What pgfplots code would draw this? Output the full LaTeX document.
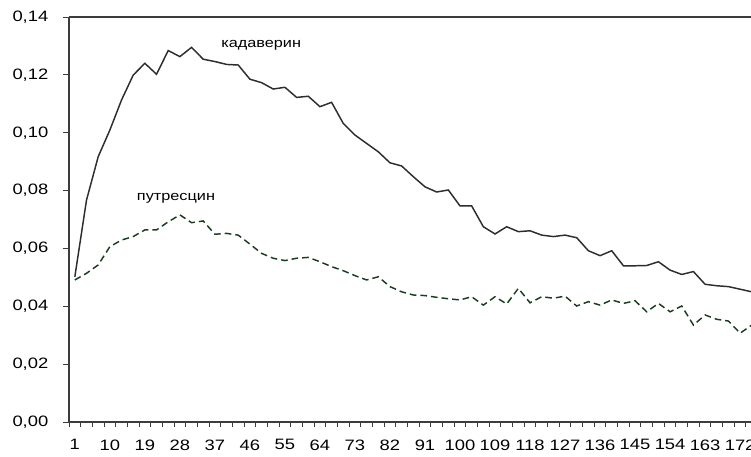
\documentclass[border=0pt]{standalone}
\usepackage{fontspec}
\setmainfont{Liberation Sans}
\usepackage{pgfplots}
\pgfplotsset{compat=1.18}
\usetikzlibrary{calc}
\definecolor{cad}{RGB}{45,45,45}
\definecolor{put}{RGB}{25,62,30}
\definecolor{axc}{RGB}{60,60,60}
\begin{document}
\begin{tikzpicture}
\begin{axis}[
  scale only axis,
  width=511.5pt, height=303.75pt,
  xmin=-0.5, xmax=174.8,
  ymin=0, ymax=0.14,
  axis lines*=left,
  axis line style={-, axc, line width=0.9pt},
  tick align=outside,
  xtick={1,10,...,172},
  major x tick style={draw=none},
  minor xtick={-0.5,2.5,...,175},
  minor tick length=3.75pt,
  minor x tick style={axc, line width=0.7pt},
  ytick={0,0.02,...,0.141},
  major tick length=4.5pt,
  major y tick style={axc, line width=0.7pt},
  /pgf/number format/assume math mode=true,
  yticklabel style={/pgf/number format/.cd, fixed, fixed zerofill, precision=2, use comma,
    /tikz/.cd, font=\fontsize{11.3}{13}\selectfont, xscale=1.22, anchor=east, xshift=-5.5pt},
  xticklabel style={font=\fontsize{11.3}{13}\selectfont, xscale=1.22, anchor=north, yshift=-7.5pt, inner sep=1pt},
  clip=true,
]
\addplot[cad, line width=1.1pt] coordinates {
(1,0.0502)(4,0.0767)(7,0.0917)(10,0.1009)(13,0.1113)(16,0.1199)(19,0.1240)(22,0.1202)
(25,0.1284)(28,0.1263)(31,0.1295)(34,0.1254)(37,0.1246)(40,0.1236)(43,0.1234)(46,0.1185)
(49,0.1173)(52,0.1151)(55,0.1157)(58,0.1122)(61,0.1126)(64,0.1090)(67,0.1105)(70,0.1032)
(73,0.0992)(76,0.0963)(79,0.0934)(82,0.0896)(85,0.0885)(88,0.0848)(91,0.0813)(94,0.0795)
(97,0.0802)(100,0.0747)(103,0.0747)(106,0.0675)(109,0.0650)(112,0.0675)(115,0.0658)(118,0.0661)
(121,0.0646)(124,0.0641)(127,0.0646)(130,0.0637)(133,0.0592)(136,0.0575)(139,0.0592)(142,0.0540)
(145,0.0540)(148,0.0541)(151,0.0554)(154,0.0525)(157,0.0510)(160,0.0520)(163,0.0476)(166,0.0471)
(169,0.0468)(172,0.0459)(175,0.0450)
};
\addplot[put, line width=1.1pt, dash pattern=on 5pt off 3pt] coordinates {
(1,0.0491)(4,0.0514)(7,0.0543)(10,0.0606)(13,0.0629)(16,0.0641)(19,0.0664)(22,0.0664)
(25,0.0692)(28,0.0716)(31,0.0689)(34,0.0695)(37,0.0649)(40,0.0652)(43,0.0646)(46,0.0615)
(49,0.0583)(52,0.0566)(55,0.0558)(58,0.0566)(61,0.0569)(64,0.0554)(67,0.0537)(70,0.0523)
(73,0.0506)(76,0.0491)(79,0.0502)(82,0.0468)(85,0.0450)(88,0.0439)(91,0.0437)(94,0.0431)
(97,0.0426)(100,0.0422)(103,0.0433)(106,0.0404)(109,0.0433)(112,0.0408)(115,0.0462)(118,0.0412)
(121,0.0433)(124,0.0428)(127,0.0435)(130,0.0401)(133,0.0416)(136,0.0404)(139,0.0422)(142,0.0410)
(145,0.0419)(148,0.0381)(151,0.0410)(154,0.0381)(157,0.0401)(160,0.0335)(163,0.0370)(166,0.0355)
(169,0.0349)(172,0.0307)(175,0.0335)
};
\draw[axc, line width=0.9pt] (axis cs:-0.5,0.14) -- (axis cs:174.8,0.14);
\node[font=\fontsize{10}{11}\selectfont, xscale=1.22] at (axis cs:48.9,0.1303) {кадаверин};
\node[font=\fontsize{10}{11}\selectfont, xscale=1.22] at (axis cs:27.0,0.0774) {путресцин};
\end{axis}
\pgfresetboundingbox
\useasboundingbox ($(current axis.south west)+(-51.75pt,-25.5pt)$) rectangle ($(current axis.north east)+(0pt,12.75pt)$);
\end{tikzpicture}
\end{document}
